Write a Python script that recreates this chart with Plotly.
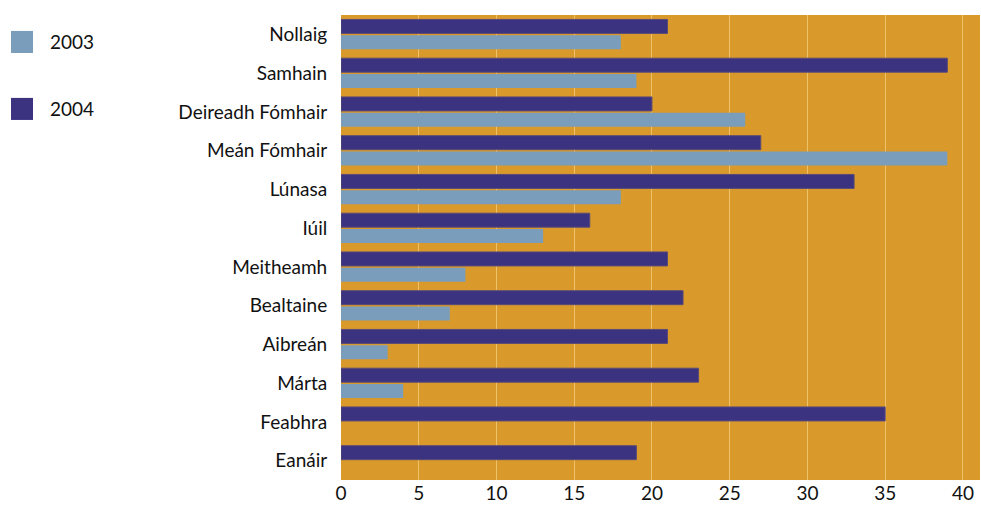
import plotly.graph_objects as go

months = ["Eanáir", "Feabhra", "Márta", "Aibreán", "Bealtaine", "Meitheamh",
          "Iúil", "Lúnasa", "Meán Fómhair", "Deireadh Fómhair", "Samhain", "Nollaig"]
values_2003 = [0, 0, 4, 3, 7, 8, 13, 18, 39, 26, 19, 18]
values_2004 = [19, 35, 23, 21, 22, 21, 16, 33, 27, 20, 39, 21]
x_ticks = [0, 5, 10, 15, 20, 25, 30, 35, 40]

C03 = "#7B9DBC"
C04 = "#3B3380"
BG = "#D99A2B"
FONT = "Lato"

fig = go.Figure()
fig.add_trace(go.Bar(y=months, x=values_2003, orientation="h", name="2003",
                     marker=dict(color=C03, line=dict(width=0))))
fig.add_trace(go.Bar(y=months, x=values_2004, orientation="h", name="2004",
                     marker=dict(color=C04, line=dict(color="#5A4A78", width=1))))

fig.update_layout(
    width=981, height=505,
    margin=dict(l=341, r=1, t=15, b=25, autoexpand=False),
    paper_bgcolor="white", plot_bgcolor=BG,
    barmode="group", bargap=0.18, bargroupgap=0.12,
    showlegend=False,
    font=dict(family=FONT, size=19, color="#111111"),
    xaxis=dict(range=[0, 41.1], tickvals=x_ticks, showgrid=True,
               gridcolor="rgba(255,225,160,0.55)", gridwidth=1, zeroline=False,
               ticks="", tickfont=dict(size=19), showline=False, automargin=False),
    yaxis=dict(categoryorder="array", categoryarray=months, range=[-0.5, 11.5],
               ticks="outside", ticklen=9, tickcolor="rgba(0,0,0,0)",
               showgrid=False, tickfont=dict(size=19), showline=False, automargin=False),
)

# manual legend
for yc, col, label in [(0.942, C03, "2003"), (0.798, C04, "2004")]:
    fig.add_shape(type="rect", xref="paper", yref="paper",
                  x0=-0.5164, x1=-0.482, y0=yc - 0.0237, y1=yc + 0.0237,
                  fillcolor=col, line=dict(width=0))
    fig.add_annotation(xref="paper", yref="paper", x=-0.4585, y=yc, text=label,
                       showarrow=False, xanchor="left", yanchor="middle",
                       font=dict(family=FONT, size=19, color="#111111"))

fig.write_html("out.html", config={"displayModeBar": False},
               post_script="document.body.style.margin='0';document.body.style.overflow='hidden';")
